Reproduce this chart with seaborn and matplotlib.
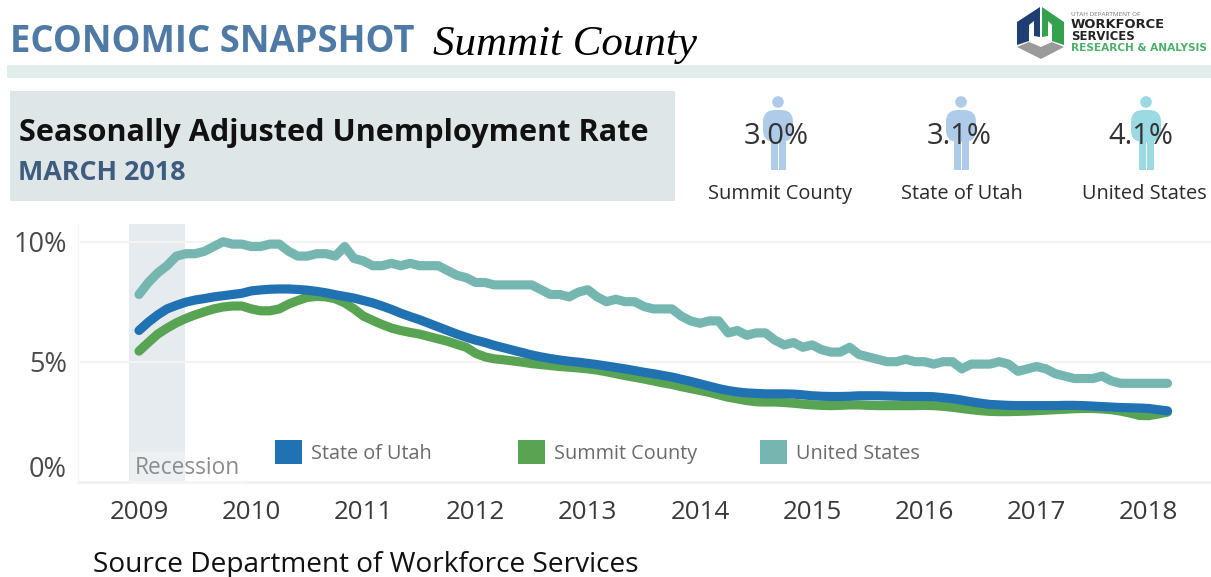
import numpy as np
import pandas as pd
import matplotlib
matplotlib.use("Agg")
import matplotlib.pyplot as plt
from matplotlib.patches import Rectangle, Circle, FancyBboxPatch, Polygon, Patch
from matplotlib.legend import Legend
from matplotlib.transforms import ScaledTranslation
import seaborn as sns

# ---------- data (monthly, Jan 2009 - Mar 2018) ----------
united_states = [
    7.8, 8.3, 8.7, 9.0, 9.4, 9.5, 9.5, 9.6, 9.8, 10.0, 9.9, 9.9,
    9.8, 9.8, 9.9, 9.9, 9.6, 9.4, 9.4, 9.5, 9.5, 9.4, 9.8, 9.3,
    9.2, 9.0, 9.0, 9.1, 9.0, 9.1, 9.0, 9.0, 9.0, 8.8, 8.6, 8.5,
    8.3, 8.3, 8.2, 8.2, 8.2, 8.2, 8.2, 8.0, 7.8, 7.8, 7.7, 7.9,
    8.0, 7.7, 7.5, 7.6, 7.5, 7.5, 7.3, 7.2, 7.2, 7.2, 6.9, 6.7,
    6.6, 6.7, 6.7, 6.2, 6.3, 6.1, 6.2, 6.2, 5.9, 5.7, 5.8, 5.6,
    5.7, 5.5, 5.4, 5.4, 5.6, 5.3, 5.2, 5.1, 5.0, 5.0, 5.1, 5.0,
    5.0, 4.9, 5.0, 5.0, 4.7, 4.9, 4.9, 4.9, 5.0, 4.9, 4.6, 4.7,
    4.8, 4.7, 4.5, 4.4, 4.3, 4.3, 4.3, 4.4, 4.2, 4.1, 4.1, 4.1,
    4.1, 4.1, 4.1,
]
state_of_utah = [
    6.3, 6.65, 6.95, 7.2, 7.35, 7.48, 7.57, 7.63, 7.7, 7.75, 7.8, 7.85,
    7.95, 7.99, 8.02, 8.03, 8.03, 8.01, 7.98, 7.93, 7.87, 7.79, 7.72, 7.65,
    7.55, 7.45, 7.32, 7.18, 7.02, 6.88, 6.75, 6.6, 6.45, 6.3, 6.15, 6.02,
    5.9, 5.8, 5.68, 5.58, 5.48, 5.38, 5.28, 5.2, 5.13, 5.07, 5.02, 4.98,
    4.93, 4.88, 4.82, 4.76, 4.7, 4.63, 4.56, 4.5, 4.43, 4.36, 4.27, 4.18,
    4.08, 3.98, 3.88, 3.8, 3.74, 3.7, 3.68, 3.66, 3.66, 3.66, 3.65, 3.62,
    3.58, 3.56, 3.55, 3.55, 3.56, 3.58, 3.58, 3.58, 3.57, 3.56, 3.55, 3.55,
    3.55, 3.54, 3.5, 3.46, 3.4, 3.33, 3.27, 3.22, 3.2, 3.18, 3.17, 3.17,
    3.17, 3.17, 3.17, 3.18, 3.18, 3.17, 3.15, 3.13, 3.11, 3.09, 3.08, 3.07,
    3.05, 3.0, 2.95,
]
summit_county = [
    5.44, 5.8, 6.15, 6.4, 6.62, 6.8, 6.95, 7.08, 7.2, 7.28, 7.32, 7.32,
    7.2, 7.12, 7.12, 7.2, 7.4, 7.55, 7.68, 7.72, 7.7, 7.62, 7.45, 7.2,
    6.9, 6.72, 6.55, 6.4, 6.3, 6.22, 6.15, 6.05, 5.95, 5.85, 5.72, 5.6,
    5.35, 5.2, 5.12, 5.08, 5.03, 4.98, 4.92, 4.88, 4.84, 4.8, 4.77, 4.74,
    4.7, 4.65, 4.58, 4.5, 4.42, 4.35, 4.28, 4.2, 4.12, 4.05, 3.96, 3.88,
    3.8, 3.72, 3.62, 3.52, 3.45, 3.38, 3.33, 3.32, 3.32, 3.3, 3.27, 3.23,
    3.2, 3.18, 3.17, 3.18, 3.2, 3.2, 3.18, 3.17, 3.17, 3.17, 3.17, 3.17,
    3.18, 3.17, 3.14, 3.1, 3.05, 3.0, 2.96, 2.93, 2.92, 2.92, 2.93, 2.94,
    2.96, 2.98, 3.0, 3.02, 3.04, 3.05, 3.05, 3.03, 3.0, 2.94, 2.86, 2.76,
    2.75, 2.82, 2.9,
]
year_ticks = [2009, 2010, 2011, 2012, 2013, 2014, 2015, 2016, 2017, 2018]
rate_ticks = [0, 5, 10]
rate_labels = ["0%", "5%", "10%"]
recession = (2008.91, 2009.41)
snapshot_names = ["Summit County", "State of Utah", "United States"]
snapshot_values = ["3.0%", "3.1%", "4.1%"]

UTAH_C, SUMMIT_C, US_C = "#2072B3", "#59A452", "#76B6B0"
W, H = 1211, 577

sns.set_theme(style="white")
plt.rcParams["font.family"] = ["Open Sans", "DejaVu Sans"]

fig = plt.figure(figsize=(W / 100, H / 100), dpi=100, facecolor="white")

# pixel-coordinate layer for the dashboard furniture
bg = fig.add_axes([0, 0, 1, 1])
bg.set_xlim(0, W)
bg.set_ylim(H, 0)
bg.axis("off")

bg.add_patch(Rectangle((7, 65), W - 7, 13, fc="#E0EDEA", ec="none"))
bg.add_patch(Rectangle((10, 91), 665, 110, fc="#DFE6E8", ec="none"))
bg.text(10, 42, "ECONOMIC SNAPSHOT", fontsize=26.3, fontweight="bold", color="#4F7AA6", va="center")
bg.text(433, 45, "Summit County", fontsize=31, family="Liberation Serif", style="italic", color="black", va="center")
bg.text(19, 133, "Seasonally Adjusted Unemployment Rate", fontsize=22.1, fontweight="bold", color="#111111", va="center")
bg.text(18, 173, "MARCH 2018", fontsize=19.4, fontweight="bold", color="#3E5C7E", va="center")

# person icons with KPI values
for cx, vx, lx, col, name, val in zip([778, 961, 1146], [776, 959, 1141], [780, 962, 1144],
                                      ["#AFCBEA", "#AFCBEA", "#9BDAE3"], snapshot_names, snapshot_values):
    bg.add_patch(Circle((cx, 102), 5.8, fc=col, ec="none"))
    bg.add_patch(FancyBboxPatch((cx - 15, 110), 30, 32, boxstyle="round,pad=0,rounding_size=12", fc=col, ec="none"))
    bg.add_patch(Rectangle((cx - 7.5, 135), 7, 35, fc=col, ec="none"))
    bg.add_patch(Rectangle((cx + 0.5, 135), 7, 35, fc=col, ec="none"))
    bg.text(vx, 136, val, fontsize=21, color="#333333", ha="center", va="center")
    bg.text(lx, 194, name, fontsize=14.4, color="#2B2B2B", ha="center", va="center")

# logo
bg.add_patch(Polygon([(1017, 22), (1040, 7), (1040, 37), (1034, 36), (1034, 21), (1029, 25), (1029, 41), (1017, 45)], fc="#1F3F73", ec="none"))
bg.add_patch(Polygon([(1064, 22), (1042, 7), (1042, 37), (1048, 36), (1048, 21), (1052, 25), (1052, 41), (1064, 45)], fc="#35A04E", ec="none"))
bg.add_patch(Polygon([(1017, 47), (1029, 42), (1041, 47), (1052, 42), (1064, 47), (1041, 59)], fc="#9A9A9A", ec="none"))
bg.text(1071, 15, "UTAH DEPARTMENT OF", fontsize=4.6, color="#777777", va="center")
bg.text(1071, 25, "WORKFORCE", fontsize=9.4, family="DejaVu Sans", fontweight="bold", color="#222222", va="center")
bg.text(1071, 37, "SERVICES", fontsize=8.4, family="DejaVu Sans", fontweight="bold", color="#222222", va="center")
bg.text(1071, 48, "RESEARCH & ANALYSIS", fontsize=7.6, family="DejaVu Sans", fontweight="bold", color="#4DB06A", va="center")

bg.text(93, 565, "Source Department of Workforce Services", fontsize=20.15, color="#111111", va="center")

# ---------- line chart ----------
left, right, top, bottom = 78, W, 224, 483
ax = fig.add_axes([left / W, 1 - bottom / H, (right - left) / W, (bottom - top) / H])
ax.patch.set_alpha(0)

n = len(united_states)
t = [2009 + i / 12 for i in range(n)]
df = pd.DataFrame({
    "year": t * 3,
    "rate": united_states + summit_county + state_of_utah,
    "area": ["United States"] * n + ["Summit County"] * n + ["State of Utah"] * n,
})
ax.axvspan(*recession, color="#E6EBF0", lw=0, zorder=0)
sns.lineplot(data=df, x="year", y="rate", hue="area",
             hue_order=["United States", "Summit County", "State of Utah"],
             palette=[US_C, SUMMIT_C, UTAH_C], lw=6.6, legend=False, ax=ax,
             solid_capstyle="round", zorder=3)

ax.set_xlim(2009 + (left - 139) / 112.2, 2009 + (right - 139) / 112.2)
ax.set_ylim(-1.3 / 24, (483 - 224 - 1.3) / 24)
ax.set_xlabel("")
ax.set_ylabel("")
ax.set_xticks(year_ticks)
ax.set_xticklabels(year_ticks)
ax.set_yticks(rate_ticks)
ax.set_yticklabels(rate_labels)
ax.tick_params(axis="x", length=5, width=1, color="#F0F0F0", labelsize=18.7, labelcolor="#3A3A3A", pad=7)
ax.tick_params(axis="y", length=0, labelsize=19.5, labelcolor="#4A4A4A", pad=8)
zero_label = ax.get_yticklabels()[0]
zero_label.set_verticalalignment("bottom")
zero_label.set_transform(zero_label.get_transform() + ScaledTranslation(0, -2 / 100, fig.dpi_scale_trans))

ax.yaxis.grid(True, color="#F4F4F4", lw=1.5, zorder=1)
ax.set_axisbelow(True)
for s in ["top", "right"]:
    ax.spines[s].set_visible(False)
ax.spines["left"].set_color("#F4F4F4")
ax.spines["bottom"].set_color("#F0F0F0")
ax.spines["left"].set_linewidth(1)
ax.spines["bottom"].set_linewidth(1.2)

ax.text(2008.96, 0.58, "Recession", fontsize=16.4, color="#8C8C8C", va="center", zorder=4,
        bbox=dict(fc="white", alpha=0.25, ec="none", pad=3))

# one-entry legends, so every swatch sits where the reference has it
for px, col, lab in zip([275, 518, 760], [UTAH_C, SUMMIT_C, US_C],
                        ["State of Utah", "Summit County", "United States"]):
    leg = Legend(ax, [Patch(fc=col, ec="none")], [lab], frameon=False, fontsize=14.3,
                 labelcolor="#6B6B6B", handlelength=1.36, handleheight=1.45, handletextpad=0.45,
                 borderpad=0, borderaxespad=0, loc="center left",
                 bbox_to_anchor=((px - left) / (right - left), (483 - 452) / (483 - 224)))
    ax.add_artist(leg)

fig.savefig("out.png", dpi=100)
